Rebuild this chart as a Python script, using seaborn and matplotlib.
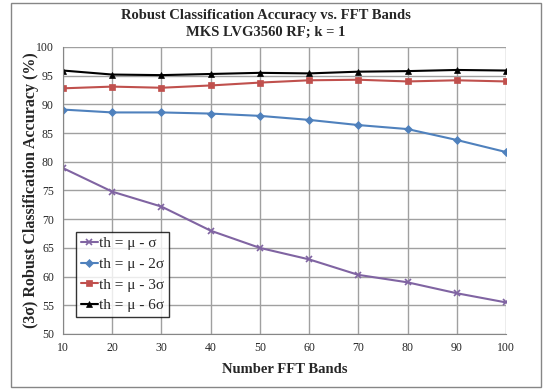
import matplotlib
matplotlib.use("Agg")
import matplotlib.pyplot as plt
import seaborn as sns
import pandas as pd
from matplotlib.patches import Rectangle

bands = [10, 20, 30, 40, 50, 60, 70, 80, 90, 100]
th_1s = [78.9, 74.8, 72.2, 68.0, 65.0, 63.0, 60.3, 59.0, 57.1, 55.5]
th_2s = [89.1, 88.6, 88.6, 88.4, 88.0, 87.3, 86.4, 85.7, 83.8, 81.7]
th_3s = [92.8, 93.1, 92.9, 93.3, 93.8, 94.2, 94.3, 94.0, 94.2, 94.0]
th_6s = [95.9, 95.2, 95.1, 95.3, 95.5, 95.4, 95.7, 95.8, 96.0, 95.9]
labels = ["th = \u03bc - \u03c3", "th = \u03bc - 2\u03c3", "th = \u03bc - 3\u03c3", "th = \u03bc - 6\u03c3"]
colors = ["#8064A2", "#4F81BD", "#C0504D", "#000000"]
markers = ["x", "D", "s", "^"]
msizes = [5, 4, 5, 5]

sns.set_style("white")
plt.rcParams['font.family'] = ['Liberation Serif', 'DejaVu Serif']

fig = plt.figure(figsize=(5.51, 3.9), dpi=100)
ax = fig.add_axes([63/551, 1-334/390, (506-63)/551, (334-47)/390])

series = [th_1s, th_2s, th_3s, th_6s]
for vals, lab, c, m, ms in zip(series, labels, colors, markers, msizes):
    df = pd.DataFrame({"x": bands, "y": vals})
    sns.lineplot(data=df, x="x", y="y", ax=ax, color=c, marker=m, markersize=ms,
                 markeredgecolor=c, markeredgewidth=1.2 if m == "x" else 0.5,
                 linewidth=1.5, label=lab)

ax.set_xlim(10, 100)
ax.set_ylim(50, 100)
ax.set_xticks(bands)
ax.set_yticks(range(50, 101, 5))
ax.grid(True, color="#A0A0A0", linewidth=1.0)
ax.set_axisbelow(True)
for s in ["top", "right"]:
    ax.spines[s].set_visible(False)
for s in ["left", "bottom"]:
    ax.spines[s].set_color("#868686")
ax.tick_params(axis="both", labelsize=8.5, length=3, color="#868686", direction="out")
ax.tick_params(axis="x", pad=3)
ax.set_xlabel("Number FFT Bands", fontsize=10.5, fontweight="bold", labelpad=6)
ax.set_ylabel("(3\u03c3) Robust Classification Accuracy (%)", fontsize=11.5, fontweight="bold")
ax.yaxis.set_label_coords((39-63)/443, 0.5)
fig.text(266/551, 1-16/390, "Robust Classification Accuracy vs. FFT Bands",
         fontsize=10.5, fontweight="bold", ha="center", va="center")
fig.text(266/551, 1-32/390, "MKS LVG3560 RF; k = 1",
         fontsize=10.5, fontweight="bold", ha="center", va="center")

leg = ax.legend(loc="lower left", bbox_to_anchor=(0.03, 0.06), fontsize=11,
                frameon=True, fancybox=False, handlelength=1.1, handletextpad=0.1,
                borderpad=0.3, labelspacing=0.45, borderaxespad=0)
leg.get_frame().set_edgecolor("black")
leg.get_frame().set_linewidth(1.0)

fig.patches.append(Rectangle((11/551, 3/390), 530/551, 384/390, transform=fig.transFigure,
                             fill=False, edgecolor="#868686", linewidth=1.0))

fig.savefig("out.png", dpi=100)
